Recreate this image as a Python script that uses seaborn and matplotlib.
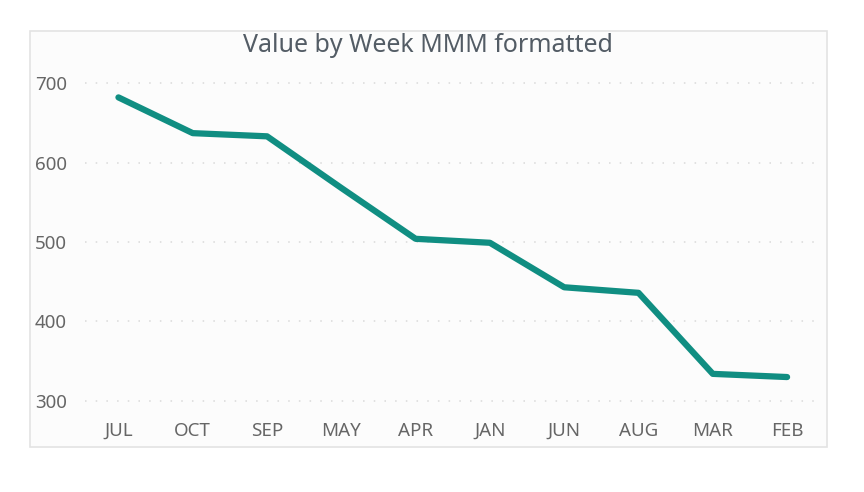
import pandas as pd
import matplotlib.pyplot as plt
import seaborn as sns
from matplotlib.patches import Rectangle

meses = ['JUL', 'OCT', 'SEP', 'MAY', 'APR', 'JAN', 'JUN', 'AUG', 'MAR', 'FEB']
valores = [682, 637, 633, 568, 504, 499, 443, 436, 334, 330]
ticks_y = [300, 400, 500, 600, 700]

datos = pd.DataFrame({'Week': meses, 'Value': valores})

sns.set_theme(style='white')
plt.rcParams['font.family'] = ['Noto Sans', 'DejaVu Sans']

fig = plt.figure(figsize=(8.64, 4.92), dpi=100)
fig.patch.set_facecolor('white')

# marco del visual
marco = Rectangle((30 / 864, 1 - 447 / 492), 797 / 864, 416 / 492,
                  transform=fig.transFigure, facecolor='#fcfcfc',
                  edgecolor='#e3e3e3', linewidth=1.2, zorder=-5)
fig.patches.append(marco)

ax = fig.add_axes([0.0984, 0.1626, 0.853, 0.705])
ax.patch.set_alpha(0)

sns.lineplot(data=datos, x='Week', y='Value', sort=False, ax=ax,
             color='#108e82', linewidth=4.5, solid_capstyle='round',
             solid_joinstyle='round', zorder=3)

ax.set_xlim(-0.45, 9.47)
ax.set_ylim(286, 722.6)
ax.set_yticks(ticks_y)
for v in ticks_y:
    ax.axhline(v, color='#d9d9d9', linestyle=(0, (1, 6)), linewidth=1.1, zorder=1)

for lado in ax.spines.values():
    lado.set_visible(False)

ax.tick_params(axis='both', length=0, labelsize=13.5, labelcolor='#666666')
ax.tick_params(axis='y', pad=13)
ax.tick_params(axis='x', pad=7)
ax.set_xlabel('')
ax.set_ylabel('')

fig.text(0.495, 1 - 45 / 492, 'Value by Week MMM formatted', ha='center', va='center',
         fontsize=18, color='#535c65')

plt.savefig('out.png', dpi=100)
plt.close()
